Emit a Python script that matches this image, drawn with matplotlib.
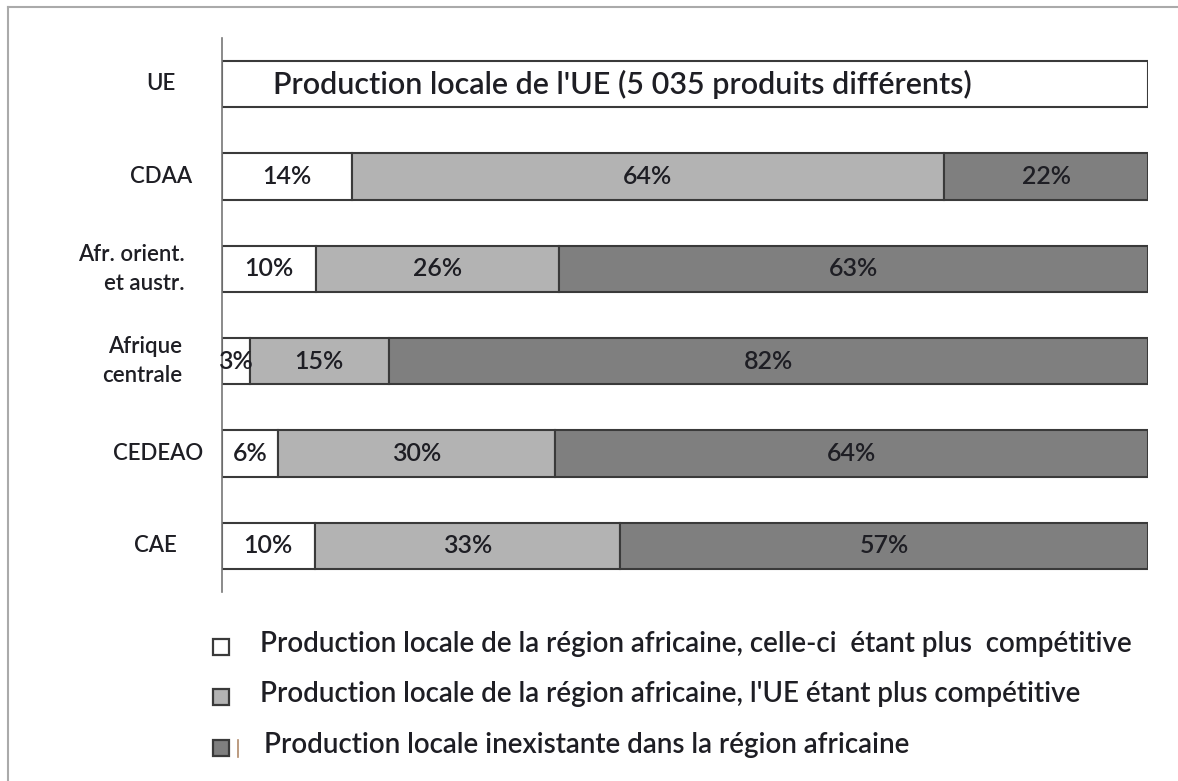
import numpy as np
import matplotlib.pyplot as plt
from matplotlib.lines import Line2D
from matplotlib.patches import Rectangle

plt.rcParams['font.family'] = ['Lato', 'DejaVu Sans']
plt.rcParams['font.weight'] = 'semibold'

# categories, top to bottom
categories = ["UE", "CDAA", "Afr. orient.\net austr.", "Afrique\ncentrale", "CEDEAO", "CAE"]
ue_label = "Production locale de l'UE (5 035 produits différents)"

# shares per African region (white, light grey, dark grey)
local_competitive = [14, 10, 3, 6, 10]
eu_competitive = [64, 26, 15, 30, 33]
no_local = [22, 63, 82, 64, 57]

legend_labels = [
    "Production locale de la région africaine, celle-ci  étant plus  compétitive",
    "Production locale de la région africaine, l'UE étant plus compétitive",
    "Production locale inexistante dans la région africaine",
]
colors = ["#ffffff", "#b3b3b3", "#7f7f7f"]
edge = "#3a3a3a"
txt = "#1e1e24"

W, H = 1178, 781
fig = plt.figure(figsize=(W / 100, H / 100), dpi=100)

# axes placed by pixel bounds of the plotting area
left, right, top, bottom = 222, 1148, 38, 592
ax = fig.add_axes([left / W, 1 - bottom / H, (right - left) / W, (bottom - top) / H])

bar_h = 0.5
ypos = np.arange(len(categories))

# UE bar: full width, white
ax.barh(ypos[0], 100, height=bar_h, color="white", edgecolor=edge, linewidth=1.5)
ax.text(5.5, ypos[0], ue_label, ha="left", va="center", fontsize=22, color=txt)

series = np.array([local_competitive, eu_competitive, no_local], dtype=float)
shares = series / series.sum(axis=0) * 100
lefts = np.zeros(shares.shape[1])
for k in range(3):
    ax.barh(ypos[1:], shares[k], left=lefts, height=bar_h, color=colors[k],
            edgecolor=edge, linewidth=1.5)
    for i, (w, l) in enumerate(zip(shares[k], lefts)):
        ax.text(l + w / 2, ypos[1 + i], f"{int(series[k][i])}%", ha="center", va="center",
                fontsize=18, color=txt)
    lefts += shares[k]

ax.set_xlim(0, 100)
ax.set_ylim(5.498, -0.498)
ax.set_xticks([])
ax.set_yticks([])
for s in ["top", "right", "bottom"]:
    ax.spines[s].set_visible(False)
ax.spines["left"].set_color("#777777")
ax.spines["left"].set_linewidth(1.2)

# category labels
label_x = [161, 161, 185, 182, 158, 155]
label_ha = ["center", "center", "right", "right", "center", "center"]
for i, cat in enumerate(categories):
    fig.text(label_x[i] / W, 1 - (84 + 92.4 * i) / H, cat, ha=label_ha[i], va="center",
             fontsize=16, color=txt, linespacing=1.45, fontweight="semibold")

# legend drawn by hand
leg_y = [647, 697, 748]
text_x = [260, 260, 264]
for col, lab, y, tx in zip(colors, legend_labels, leg_y, text_x):
    fig.add_artist(Rectangle((213 / W, 1 - (y + 8) / H), 16 / W, 16 / H,
                             transform=fig.transFigure, facecolor=col, edgecolor=edge,
                             linewidth=1.6))
    fig.text(tx / W, 1 - (y - 3) / H, lab, ha="left", va="center", fontsize=20, color=txt)
fig.add_artist(Line2D([238 / W, 238 / W], [1 - 740 / H, 1 - 757 / H], color="#b08a6a", lw=1.2))

# outer frame (grey lines top and left)
fig.add_artist(Line2D([8 / W, 8 / W], [0, 1 - 7 / H], color="#aaaaaa", lw=1.5))
fig.add_artist(Line2D([8 / W, 1], [1 - 7 / H, 1 - 7 / H], color="#aaaaaa", lw=1.5))

plt.savefig("out.png", dpi=100)
plt.close()
